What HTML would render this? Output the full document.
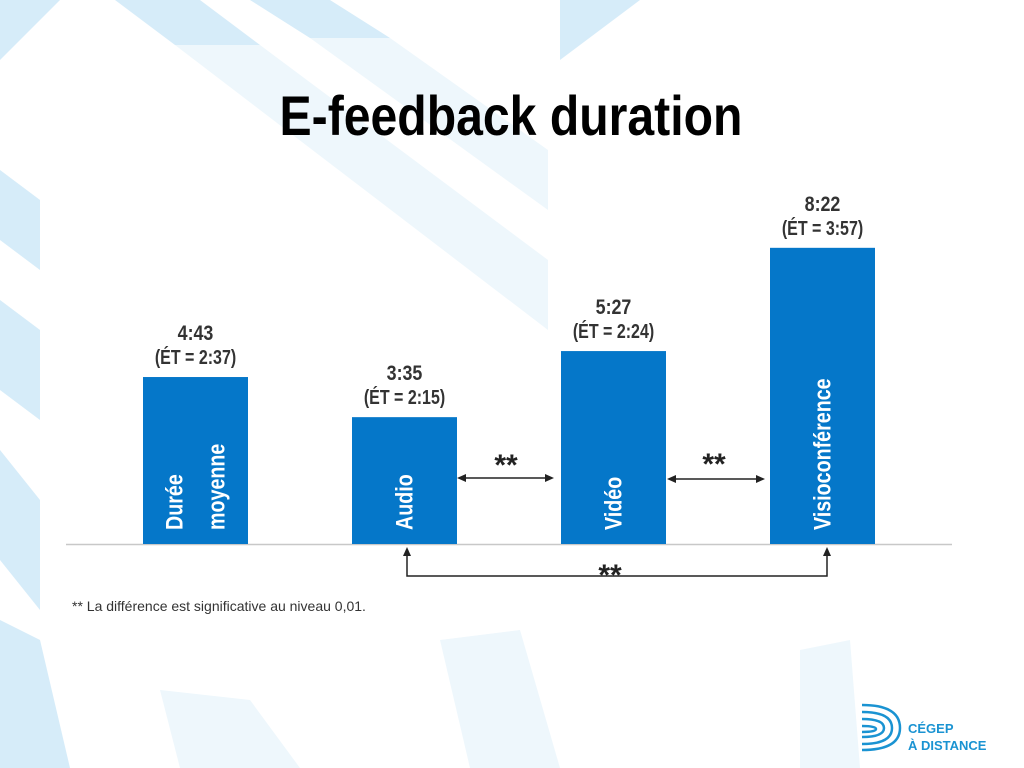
<!DOCTYPE html>
<html><head><meta charset="utf-8"><style>
body{margin:0;width:1024px;height:768px;overflow:hidden;background:#fff;font-family:"Liberation Sans",sans-serif}
svg{display:block}
</style></head><body>
<svg id="s" width="1024" height="768" viewBox="0 0 1024 768">
<g fill="#d6ecf9">
<polygon points="0,0 60,0 0,60"/>
<polygon points="115,0 200,0 260,45 175,45"/>
<polygon points="250,0 330,0 390,38 310,38"/>
<polygon points="560,0 640,0 560,60"/>
<polygon points="0,170 40,200 40,270 0,240"/>
<polygon points="0,300 40,330 40,420 0,390"/>
<polygon points="0,450 40,500 40,610 0,560"/>
<polygon points="0,620 40,640 70,768 0,768"/>
</g>
<g fill="#eef7fc">
<polygon points="175,45 260,45 548,260 548,330"/>
<polygon points="310,38 390,38 548,150 548,210"/>
<polygon points="160,690 250,700 300,768 180,768"/>
<polygon points="440,640 520,630 560,768 470,768"/>
<polygon points="800,650 850,640 860,768 800,768"/>
</g>
<text x="511" y="135" text-anchor="middle" font-size="56" font-weight="bold" transform="translate(511 0) scale(0.86 1) translate(-511 0)">E-feedback duration</text>
<line x1="66" y1="544.5" x2="952" y2="544.5" stroke="#c8c8c8" stroke-width="1.5"/>
<g id="bars"></g>
<g stroke="#222" stroke-width="1.5" fill="none">
<line x1="462" y1="478" x2="549" y2="478"/>
<line x1="672" y1="479" x2="760" y2="479"/>
<polyline points="407,553 407,576 827,576 827,553"/>
</g>
<g fill="#222">
<polygon points="457,478 466,474 466,482"/><polygon points="554,478 545,474 545,482"/>
<polygon points="667,479 676,475 676,483"/><polygon points="765,479 756,475 756,483"/>
<polygon points="407,547 403,556 411,556"/><polygon points="827,547 823,556 831,556"/>
</g>
<g font-size="30" font-weight="bold" fill="#222" text-anchor="middle">
<text x="506" y="475">**</text><text x="714" y="474">**</text><text x="610" y="585">**</text>
</g>
<text x="72" y="611" font-size="14" fill="#333">** La différence est significative au niveau 0,01.</text>
<g>
<g fill="none" stroke="#1a93d2" stroke-width="2.5">
<path d="M862,705 Q900,705 900,728 Q900,750 862,750"/>
<path d="M862,712 Q892,712 892,728 Q892,744 862,744"/>
<path d="M862,719 Q884,719 884,728 Q884,737 862,737"/>
<path d="M862,726 Q876,726 876,729 Q876,732 862,732"/>
</g>
<text x="908" y="733" font-size="13" font-weight="bold" fill="#1a93d2">CÉGEP</text>
<text x="908" y="750" font-size="13" font-weight="bold" fill="#1a93d2">À DISTANCE</text>
</g>
</svg>
<script>
const categories=["Durée moyenne","Audio","Vidéo","Visioconférence"];
const meanSeconds=[283,215,327,502];
const meanLabels=["4:43","3:35","5:27","8:22"];
const sdLabels=["(ÉT = 2:37)","(ÉT = 2:15)","(ÉT = 2:24)","(ÉT = 3:57)"];
const NS="http://www.w3.org/2000/svg";
const base=544,scale=0.59,x0=143,step=209,bw=105;
const xPos=i=>x0+i*step;
const yPos=v=>base-v*scale;
const g=document.getElementById('bars');
function mk(t,a){const e=document.createElementNS(NS,t);for(const k in a)e.setAttribute(k,a[k]);return e;}
categories.forEach((c,i)=>{
  const x=xPos(i),y=yPos(meanSeconds[i]);
  const r=mk('rect',{x:x,y:y,width:bw,height:base-y,fill:'#0577c9'});
  
  
  g.appendChild(r);
  const cx=x+bw/2;
  const t1=mk('text',{x:0,y:0,'text-anchor':'middle','font-size':21,'font-weight':'bold',fill:'#333',transform:'translate('+cx+' '+(y-37)+') scale(0.85 1)'});
  t1.textContent=meanLabels[i];
  
  
  g.appendChild(t1);
  const t2=mk('text',{x:0,y:0,'text-anchor':'middle','font-size':20,'font-weight':'bold',fill:'#333',transform:'translate('+cx+' '+(y-13)+') scale(0.8 1)'});
  t2.textContent=sdLabels[i];
  
  
  g.appendChild(t2);
  const lines=c.split(' ');
  lines.forEach((w,j)=>{
    const lx=cx+(j-(lines.length-1)/2)*42+8;
    const t=mk('text',{x:0,y:0,'font-size':24,'font-weight':'bold',fill:'#fff',transform:'translate('+lx+' '+(base-14)+') rotate(-90) scale(0.82 1)'});
    t.textContent=w;
    
    
    g.appendChild(t);
  });
});
</script>
</body></html>
